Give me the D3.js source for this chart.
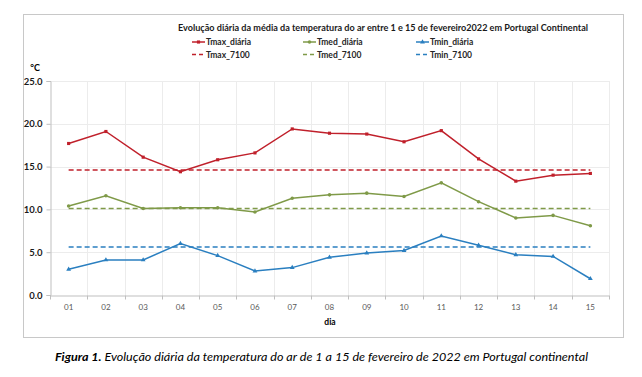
<!DOCTYPE html>
<meta charset="utf-8">
<style>
  body { margin: 0; background: #fff; }
  text { font-family: Lato, "Open Sans", sans-serif; }
</style>
<body>
<script src="https://d3js.org/d3.v7.min.js"></script>
<script>
    // daily values
    const dias = ["01","02","03","04","05","06","07","08","09","10","11","12","13","14","15"];
    const tmaxDiaria = [17.7, 19.1, 16.1, 14.4, 15.8, 16.6, 19.4, 18.9, 18.8, 17.9, 19.2, 15.9, 13.3, 14.0, 14.2];
    const tmedDiaria = [10.4, 11.6, 10.1, 10.2, 10.2, 9.7, 11.3, 11.7, 11.9, 11.5, 13.1, 10.9, 9.0, 9.3, 8.1];
    const tminDiaria = [3.0, 4.1, 4.1, 6.0, 4.6, 2.8, 3.2, 4.4, 4.9, 5.2, 6.9, 5.8, 4.7, 4.5, 1.9];
    const tmax7100 = 14.6;
    const tmed7100 = 10.1;
    const tmin7100 = 5.6;
    const yTicks = [0, 5, 10, 15, 20, 25];

    const width = 642, height = 377;
    const margin = {left: 50, right: 33, top: 81, bottom: 82};

    const svg = d3.select("body").append("svg")
        .attr("width", width)
        .attr("height", height);

    // chart frame
    svg.append("rect")
        .attr("x", 23.5).attr("y", 14.5)
        .attr("width", 600).attr("height", 323)
        .attr("fill", "none").attr("stroke", "#c8c8c8");

    let x = d3.scaleBand().domain(dias).range([margin.left, width - margin.right]);
    let y = d3.scaleLinear().domain([0, 25]).range([height - margin.bottom, margin.top]);
    const cx = d => x(d) + x.bandwidth() / 2;

    // grid
    svg.append("g").selectAll("line").data(yTicks.slice(1)).join("line")
        .attr("x1", margin.left).attr("x2", width - margin.right)
        .attr("y1", d => Math.round(y(d)) + 0.5).attr("y2", d => Math.round(y(d)) + 0.5)
        .attr("stroke", "#ececec");
    svg.append("g").selectAll("line").data(dias).join("line")
        .attr("x1", d => Math.round(x(d) + x.bandwidth()) + 0.5)
        .attr("x2", d => Math.round(x(d) + x.bandwidth()) + 0.5)
        .attr("y1", margin.top).attr("y2", height - margin.bottom)
        .attr("stroke", "#ececec");

    // axes
    let xAxis = svg.append("g")
        .attr("transform", "translate(0," + (Math.round(y(0)) + 0.5) + ")")
        .call(d3.axisBottom(x).tickSize(0).tickPadding(9));
    xAxis.select(".domain").attr("stroke", "#bfbfbf");
    xAxis.selectAll("text").attr("fill", "#595959").style("font-size", "8px");
    xAxis.selectAll(".boundary").data(x.domain().concat("end")).join("line")
        .attr("x1", (d, i) => Math.round(margin.left + i * x.bandwidth()) + 0.5)
        .attr("x2", (d, i) => Math.round(margin.left + i * x.bandwidth()) + 0.5)
        .attr("y1", 0).attr("y2", 4)
        .attr("stroke", "#bfbfbf");

    let yAxis = svg.append("g")
        .attr("transform", "translate(" + (margin.left + 0.5) + ",0)")
        .call(d3.axisLeft(y).tickValues(yTicks).tickFormat(d3.format(".1f")).tickSize(4).tickPadding(4));
    yAxis.select(".domain").attr("stroke", "#bfbfbf");
    yAxis.selectAll(".tick line").attr("stroke", "#bfbfbf");
    yAxis.selectAll("text").attr("fill", "#1a1a1a").style("font-size", "9.5px").style("font-weight", "bold");

    svg.append("text").attr("x", 35).attr("y", 71).attr("text-anchor", "middle")
        .style("font-size", "9px").style("font-weight", "bold").text("°C");
    svg.append("text").attr("x", 330).attr("y", 325).attr("text-anchor", "middle")
        .style("font-size", "8.5px").style("font-weight", "bold").text("dia");

    // series
    const series = [
        {name: "Tmax_diária", values: tmaxDiaria, color: "#c0202b", marker: d3.symbolSquare},
        {name: "Tmed_diária", values: tmedDiaria, color: "#7f9a48", marker: d3.symbolCircle},
        {name: "Tmin_diária", values: tminDiaria, color: "#2a7fc0", marker: d3.symbolTriangle}
    ];
    const refs = [
        {name: "Tmax_7100", value: tmax7100, color: "#c0202b"},
        {name: "Tmed_7100", value: tmed7100, color: "#7f9a48"},
        {name: "Tmin_7100", value: tmin7100, color: "#2a7fc0"}
    ];

    refs.forEach(r => {
        svg.append("line")
            .attr("x1", cx(dias[0])).attr("x2", cx(dias[dias.length - 1]))
            .attr("y1", y(r.value)).attr("y2", y(r.value))
            .attr("stroke", r.color).attr("stroke-width", 1.6)
            .attr("stroke-dasharray", "5,3");
    });

    let line = d3.line().x((d, i) => cx(dias[i])).y(d => y(d));
    series.forEach(s => {
        svg.append("path").datum(s.values)
            .attr("d", line)
            .attr("fill", "none").attr("stroke", s.color).attr("stroke-width", 1.5);
        svg.append("g").selectAll("path").data(s.values).join("path")
            .attr("transform", (d, i) => "translate(" + cx(dias[i]) + "," + y(d) + ")")
            .attr("d", d3.symbol().type(s.marker).size(10))
            .attr("fill", s.color);
    });

    // title + legend
    svg.append("text").attr("x", 178).attr("y", 31)
        .attr("textLength", 410).attr("lengthAdjust", "spacingAndGlyphs")
        .style("font-size", "10px").style("font-weight", "bold").attr("fill", "#1a1a1a")
        .text("Evolução diária da média da temperatura do ar entre 1 e 15 de fevereiro2022 em Portugal Continental");

    const legX = [192, 303, 416];
    series.forEach((s, i) => {
        let g = svg.append("g").attr("transform", "translate(" + legX[i] + ",42)");
        g.append("line").attr("x1", 0).attr("x2", 13).attr("stroke", s.color).attr("stroke-width", 1.5);
        g.append("path").attr("transform", "translate(6.5,0)")
            .attr("d", d3.symbol().type(s.marker).size(10)).attr("fill", s.color);
        g.append("text").attr("x", 14).attr("y", 3).style("font-size", "8.5px").style("font-weight", "bold")
            .attr("fill", "#262626").text(s.name);
    });
    refs.forEach((r, i) => {
        let g = svg.append("g").attr("transform", "translate(" + legX[i] + ",54.5)");
        g.append("line").attr("x1", 0).attr("x2", 13).attr("stroke", r.color).attr("stroke-width", 1.5)
            .attr("stroke-dasharray", "4,3");
        g.append("text").attr("x", 14).attr("y", 3).style("font-size", "8.5px").style("font-weight", "bold")
            .attr("fill", "#262626").text(r.name);
    });

    // caption
    let cap = svg.append("text").attr("x", 55).attr("y", 361)
        .attr("textLength", 533).attr("lengthAdjust", "spacingAndGlyphs")
        .style("font-size", "12px").style("font-style", "italic").attr("fill", "#000");
    cap.append("tspan").style("font-weight", "bold").text("Figura 1.");
    cap.append("tspan").text(" Evolução diária da temperatura do ar de 1 a 15 de fevereiro de 2022 em Portugal continental");
</script>
</body>
